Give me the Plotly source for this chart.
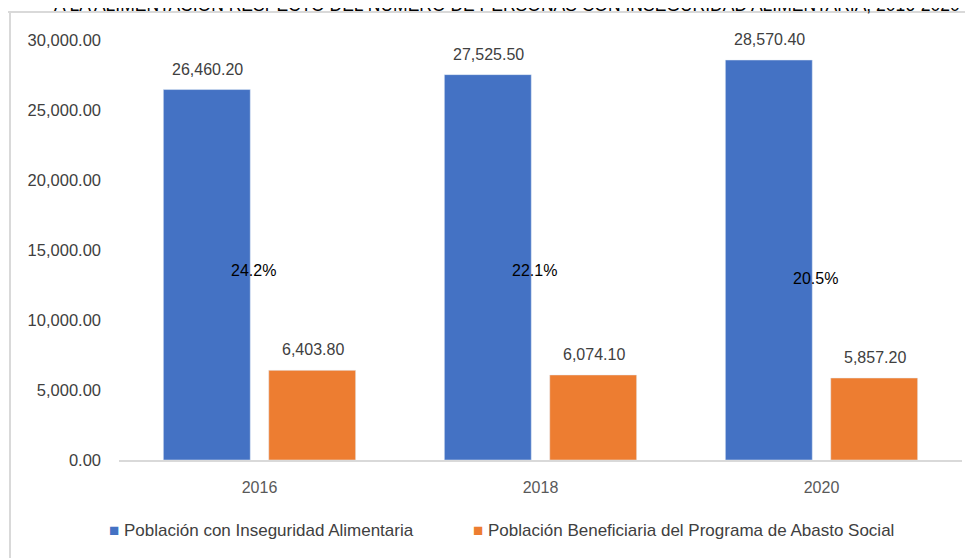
import plotly.graph_objects as go

years = ["2016", "2018", "2020"]
inseguridad = [26460.20, 27525.50, 28570.40]
beneficiaria = [6403.80, 6074.10, 5857.20]
porcentajes = ["24.2%", "22.1%", "20.5%"]
pct_label_y = [13570, 13570, 13000]
series_names = ["Población con Inseguridad Alimentaria",
                "Población Beneficiaria del Programa de Abasto Social"]
title_text = "A LA ALIMENTACIÓN RESPECTO DEL NÚMERO DE PERSONAS CON INSEGURIDAD ALIMENTARIA, 2016-2020"

BLUE = "#4472C4"
ORANGE = "#ED7D31"
FONT = "Liberation Sans"

OFF = 8  # page body margin
W, H = 973, 558
L, R, T, B = 111, 19, 32, 106
PW, PH = W - L - R, H - T - B

def px(x):  # page pixel -> paper x
    return (x - OFF - L) / PW

def py(y):  # page pixel -> paper y
    return (H - B - (y - OFF)) / PH

fig = go.Figure()
fig.add_trace(go.Bar(x=years, y=inseguridad, name=series_names[0],
                     marker=dict(color=BLUE), showlegend=False))
fig.add_trace(go.Bar(x=years, y=beneficiaria, name=series_names[1],
                     marker=dict(color=ORANGE), showlegend=False))
# legend entries: coloured square glyph + label, one legend each
for nm, col, lg in zip(series_names, [BLUE, ORANGE], ["legend", "legend2"]):
    fig.add_trace(go.Scatter(x=[years[0]], y=[None], mode="markers", legend=lg,
                             name=f'<span style="color:{col}">■</span> {nm}',
                             marker=dict(size=1, color="rgba(0,0,0,0)")))

annotations = []
for i, v in enumerate(inseguridad):
    annotations.append(dict(x=i, y=v, xref="x", yref="y", text=f"{v:,.2f}",
                            showarrow=False, yanchor="bottom", yshift=10, xshift=-52,
                            font=dict(family=FONT, size=16, color="#404040")))
for i, v in enumerate(beneficiaria):
    annotations.append(dict(x=i, y=v, xref="x", yref="y", text=f"{v:,.2f}",
                            showarrow=False, yanchor="bottom", yshift=10, xshift=53,
                            font=dict(family=FONT, size=16, color="#404040")))
for i, (p, yy) in enumerate(zip(porcentajes, pct_label_y)):
    annotations.append(dict(x=i, y=yy, xref="x", yref="y", text=p,
                            showarrow=False, yanchor="middle", xshift=-6,
                            font=dict(family=FONT, size=16, color="#000000")))
annotations.append(dict(x=px(507), y=py(4), xref="paper", yref="paper", text=title_text,
                        showarrow=False, yanchor="middle", xanchor="center",
                        font=dict(family=FONT, size=17.5, color="#000000")))

shapes = [
    dict(type="line", xref="paper", yref="paper", x0=px(10), x1=px(10), y0=py(12), y1=py(570),
         line=dict(color="#d9d9d9", width=2)),
    dict(type="line", xref="paper", yref="paper", x0=px(5), x1=px(985), y0=py(12), y1=py(12),
         line=dict(color="#d9d9d9", width=2)),
]

legend_common = dict(orientation="h", xanchor="left", yanchor="middle",
                     font=dict(family=FONT, size=17, color="#404040"),
                     itemwidth=30, bgcolor="rgba(0,0,0,0)")

fig.update_layout(
    width=W, height=H,
    margin=dict(l=L, r=R, t=T, b=B),
    paper_bgcolor="white", plot_bgcolor="white",
    barmode="group", bargap=0.25, bargroupgap=0.175,
    font=dict(family=FONT, size=15, color="#595959"),
    annotations=annotations, shapes=shapes,
    legend=dict(x=px(69), y=py(530), **legend_common),
    legend2=dict(x=px(433), y=py(530), **legend_common),
    xaxis=dict(type="category", range=[-0.5, 2.5], showline=True, linecolor="#d9d9d9",
               linewidth=2, showgrid=False, ticks="", ticklabelstandoff=12,
               tickfont=dict(family=FONT, size=16, color="#595959")),
    yaxis=dict(range=[0, 30000], dtick=5000, tickformat=",.2f", showgrid=False,
               zeroline=False, showline=False, ticks="", ticklabelstandoff=17,
               tickfont=dict(family=FONT, size=16.5, color="#404040")),
)

fig.write_html("out.html")
